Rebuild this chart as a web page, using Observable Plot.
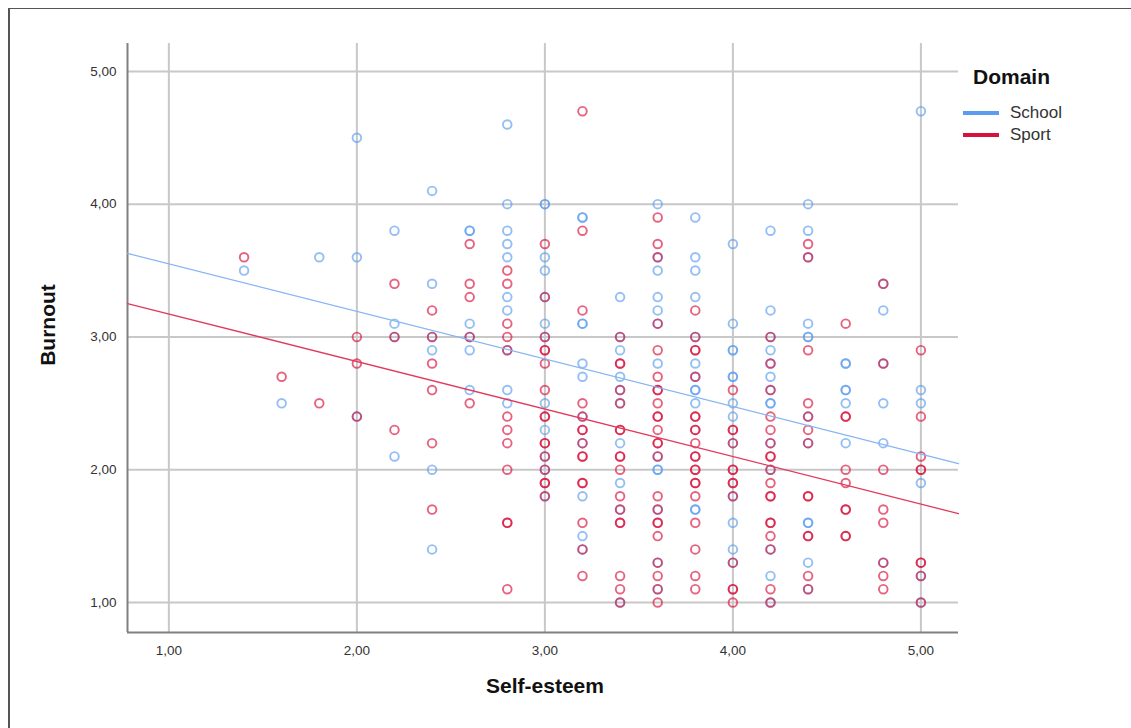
<!DOCTYPE html>
<html>
<head>
<meta charset="utf-8">
<script src="https://cdn.jsdelivr.net/npm/d3@7"></script>
<script src="https://cdn.jsdelivr.net/npm/@observablehq/plot@0.6"></script>
<style>
  body { margin: 0; background: #fff; font-family: "Liberation Sans", Arial, sans-serif; }
  #wrap { position: relative; width: 1131px; height: 728px; overflow: hidden; background: #fff; }
  #frame { position: absolute; left: 8px; top: 8px; width: 1140px; height: 740px; border-left: 2px solid #555; border-top: 1px solid #555; }
  #chart { position: absolute; left: 0; top: 0; }
  .title { position: absolute; font-weight: bold; color: #111; font-size: 21px; }
  .leg { position: absolute; font-size: 17px; color: #333; }
  .sw { position: absolute; height: 4px; width: 36px; }
</style>
</head>
<body>
<div id="wrap">
  <div id="frame"></div>
  <div id="chart"></div>
  <div class="title" style="left:0;width:1090px;text-align:center;top:674px;">Self-esteem</div>
  <div class="title" style="left:48px;top:325px;transform:translate(-50%,-50%) rotate(-90deg);white-space:nowrap;">Burnout</div>
  <div class="title" style="left:973px;top:65px;font-size:21px;">Domain</div>
  <div class="sw" style="left:963px;top:111px;background:#5b9cf0;"></div>
  <div class="leg" style="left:1010px;top:103px;">School</div>
  <div class="sw" style="left:963px;top:133px;background:#d8103c;"></div>
  <div class="leg" style="left:1010px;top:125px;">Sport</div>
</div>
<script>
// Self-esteem values (x) and Burnout values (y) per column, for each domain
const selfEsteem = [1.4, 1.6, 1.8, 2.0, 2.2, 2.4, 2.6, 2.8, 3.0, 3.2, 3.4, 3.6, 3.8, 4.0, 4.2, 4.4, 4.6, 4.8, 5.0];
const schoolBurnout = [
  [3.5],
  [2.5],
  [3.6],
  [4.5, 3.6, 2.4],
  [3.8, 3.1, 3.0, 2.1],
  [4.1, 3.4, 3.0, 2.9, 2.0, 1.4],
  [3.8, 3.8, 3.1, 3.0, 2.9, 2.6],
  [4.6, 4.0, 3.8, 3.7, 3.6, 3.3, 3.2, 2.9, 2.6, 2.5],
  [4.0, 4.0, 3.6, 3.5, 3.3, 3.1, 3.0, 2.5, 2.3, 2.1, 2.0, 1.8],
  [3.9, 3.9, 3.1, 3.1, 2.8, 2.7, 2.4, 2.2, 1.8, 1.5, 1.4],
  [3.3, 3.0, 2.9, 2.7, 2.6, 2.5, 2.2, 1.9, 1.7, 1.0],
  [4.0, 3.6, 3.5, 3.3, 3.2, 3.1, 2.8, 2.1, 2.0, 2.0, 1.7, 1.3, 1.1],
  [3.9, 3.6, 3.5, 3.3, 3.0, 2.8, 2.7, 2.6, 2.6, 2.5, 1.7, 1.7],
  [3.7, 3.1, 2.9, 2.9, 2.7, 2.7, 2.5, 2.4, 2.2, 1.8, 1.6, 1.4, 1.3],
  [3.8, 3.2, 3.0, 2.9, 2.8, 2.7, 2.6, 2.5, 2.5, 2.2, 2.0, 1.4, 1.2, 1.0],
  [4.0, 3.8, 3.6, 3.1, 3.0, 3.0, 2.4, 2.2, 1.6, 1.6, 1.3, 1.1],
  [2.8, 2.8, 2.6, 2.6, 2.5, 2.2],
  [3.4, 3.2, 2.8, 2.5, 2.2, 1.3],
  [4.7, 2.6, 2.5, 1.9, 1.2, 1.0]
];
const sportBurnout = [
  [3.6],
  [2.7],
  [2.5],
  [3.0, 2.8, 2.4],
  [3.4, 3.0, 2.3],
  [3.2, 3.0, 2.8, 2.6, 2.2, 1.7],
  [3.7, 3.4, 3.3, 3.0, 2.5],
  [3.5, 3.4, 3.1, 3.0, 2.9, 2.4, 2.3, 2.2, 2.0, 1.6, 1.6, 1.1],
  [3.7, 3.3, 3.0, 2.9, 2.9, 2.8, 2.6, 2.4, 2.4, 2.2, 2.2, 2.1, 2.0, 1.9, 1.9, 1.8],
  [4.7, 3.8, 3.2, 2.5, 2.4, 2.3, 2.3, 2.2, 2.1, 2.1, 1.9, 1.9, 1.6, 1.4, 1.2],
  [3.0, 2.8, 2.8, 2.6, 2.5, 2.3, 2.3, 2.1, 2.1, 2.0, 1.8, 1.7, 1.6, 1.6, 1.2, 1.1, 1.0],
  [3.9, 3.7, 3.6, 3.1, 2.9, 2.7, 2.6, 2.6, 2.5, 2.4, 2.4, 2.3, 2.2, 2.2, 2.1, 1.8, 1.7, 1.6, 1.6, 1.5, 1.3, 1.2, 1.1, 1.0],
  [3.2, 3.0, 2.9, 2.9, 2.7, 2.4, 2.4, 2.3, 2.3, 2.2, 2.1, 2.1, 2.0, 2.0, 1.9, 1.9, 1.8, 1.6, 1.4, 1.2, 1.1],
  [2.6, 2.3, 2.3, 2.2, 2.0, 2.0, 1.9, 1.9, 1.8, 1.3, 1.1, 1.1, 1.0],
  [3.0, 2.8, 2.6, 2.4, 2.3, 2.2, 2.1, 2.1, 2.0, 1.9, 1.8, 1.8, 1.6, 1.6, 1.5, 1.4, 1.1, 1.0],
  [3.7, 3.6, 2.9, 2.5, 2.4, 2.3, 2.2, 1.8, 1.8, 1.5, 1.5, 1.2, 1.1],
  [3.1, 2.4, 2.4, 2.0, 1.9, 1.7, 1.7, 1.5, 1.5],
  [3.4, 2.8, 2.0, 1.7, 1.6, 1.3, 1.2, 1.1],
  [2.9, 2.4, 2.1, 2.0, 2.0, 1.3, 1.3, 1.2, 1.0]
];
// Fit lines: Burnout = intercept + slope * Self-esteem
const domains = ["School", "Sport"];
const fitIntercept = [3.908, 3.531];
const fitSlope = [-0.358, -0.358];
const tickValues = [1, 2, 3, 4, 5];
const xDomain = [0.78, 5.2];
const yDomain = [0.774, 5.21];
const colors = {School: "#5b9cf0", Sport: "#d8103c"};

const points = [];
selfEsteem.forEach((x, i) => {
  schoolBurnout[i].forEach(y => points.push({x, y, domain: "School"}));
});
selfEsteem.forEach((x, i) => {
  sportBurnout[i].forEach(y => points.push({x, y, domain: "Sport"}));
});
const fitLines = [];
domains.forEach((d, i) => {
  xDomain.forEach(x => fitLines.push({x, y: fitIntercept[i] + fitSlope[i] * x, domain: d}));
});

const fmt = d => d.toFixed(2).replace(".", ",");

const chart = Plot.plot({
  width: 1131,
  height: 728,
  marginLeft: 127,
  marginRight: 173,
  marginTop: 43,
  marginBottom: 96,
  style: {fontFamily: "'Liberation Sans', Arial, sans-serif", fontSize: "13.5px", color: "#333", background: "transparent"},
  x: {domain: xDomain, label: null},
  y: {domain: yDomain, label: null},
  marks: [
    Plot.gridX(tickValues, {stroke: "#c8c8c8", strokeWidth: 2, strokeOpacity: 1}),
    Plot.gridY(tickValues, {stroke: "#c8c8c8", strokeWidth: 2, strokeOpacity: 1}),
    Plot.ruleX([xDomain[0]], {stroke: "#808080", strokeWidth: 2}),
    Plot.ruleY([yDomain[0]], {stroke: "#808080", strokeWidth: 2}),
    Plot.dot(points, {x: "x", y: "y", r: 4.3, stroke: d => colors[d.domain], strokeWidth: 1.9, strokeOpacity: 0.65, fill: "none"}),
    Plot.line(fitLines, {x: "x", y: "y", z: "domain", stroke: d => d.domain === "School" ? "#86b5f2" : "#e23a5c", strokeWidth: 1.3}),
    Plot.axisX({tickSize: 0, tickPadding: 13, tickFormat: fmt, ticks: tickValues, label: null, fill: "#333"}),
    Plot.axisY({tickSize: 0, tickPadding: 11, tickFormat: fmt, ticks: tickValues, label: null, fill: "#333"})
  ]
});
document.getElementById("chart").appendChild(chart);
</script>
</body>
</html>
